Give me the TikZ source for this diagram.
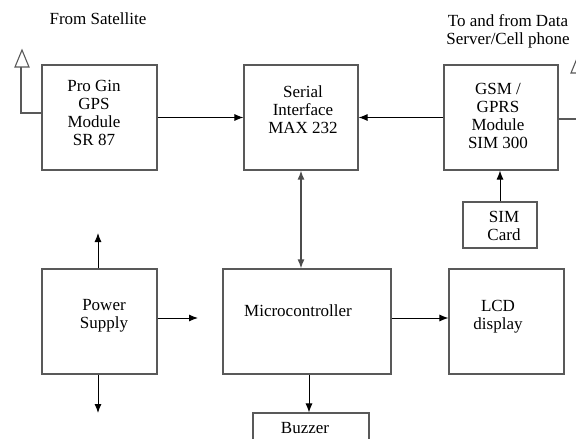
\documentclass[tikz,border=0pt]{standalone}
\usepackage{fontspec}
\setmainfont{Liberation Serif}
\usetikzlibrary{arrows.meta}
\begin{document}
\begin{tikzpicture}[x=1pt,y=-1pt,
  box/.style={draw=black!65, line width=1.1pt, inner sep=0pt},
  lbl/.style={align=center, inner sep=0pt, font=\fontsize{17}{18}\selectfont},
  arr/.style={draw=black, line width=1pt, -{Latex[length=9pt,width=7pt]}},
  darr/.style={draw=black!70, line width=1.5pt, {Latex[length=9pt,width=7pt]}-{Latex[length=9pt,width=7pt]}},
  ant/.style={draw=black!65, line width=1.1pt}]
\useasboundingbox (0,0) rectangle (576,439);
\clip (0,0) rectangle (576,439);
% boxes
\node[box, minimum width=115pt, minimum height=105pt] (gps) at (99.5,117.5) {};
\node[box, minimum width=114pt, minimum height=105pt] (serial) at (301,117.5) {};
\node[box, minimum width=114pt, minimum height=105pt] (gsm) at (501,117.5) {};
\node[box, minimum width=74pt, minimum height=46pt] (sim) at (500,225) {};
\node[box, minimum width=115pt, minimum height=105pt] (power) at (99.5,321.5) {};
\node[box, minimum width=168pt, minimum height=105pt] (micro) at (307,321.5) {};
\node[box, minimum width=115pt, minimum height=105pt] (lcd) at (506.5,321.5) {};
\node[box, minimum width=116pt, minimum height=47pt] (buzzer) at (311,436.5) {};
% texts
\node[lbl] (tsat) at (98,19) {From Satellite};
\node[lbl] (tdata) at (508,31) {To and from Data\\Server/Cell phone};
\node[lbl] (tgps) at (94,113) {Pro Gin\\GPS\\Module\\SR 87};
\node[lbl] (tserial) at (303,110) {Serial\\Interface\\MAX 232};
\node[lbl] (tgsm) at (498,115.5) {GSM /\\GPRS\\Module\\SIM 300};
\node[lbl] (tsim) at (504,226) {SIM\\Card};
\node[lbl] (tpower) at (104,316) {Power\\Supply};
\node[lbl] (tmicro) at (298,311) {Microcontroller};
\node[lbl] (tlcd) at (498,316.5) {LCD\\display};
\node[lbl] (tbuzzer) at (305,428) {Buzzer};
% connectors
\draw[arr] (gps.east) -- (serial.west);
\draw[arr] (gsm.west) -- (serial.east);
\draw[darr] (serial.south) -- (serial.south |- micro.north);
\draw[arr] (sim.north) -- (sim.north |- gsm.south);
\coordinate (pup) at (98,233);
\coordinate (pdown) at (98,413);
\coordinate (pright) at (198,318);
\draw[arr] (power.north -| pup) -- (pup);
\draw[arr] (power.south -| pdown) -- (pdown);
\draw[arr] (power.east |- pright) -- (pright);
\draw[arr] ([yshift=3.5pt]micro.east) -- ([yshift=3.5pt]lcd.west);
\draw[arr] ([xshift=2pt]micro.south) -- ([xshift=-2pt]buzzer.north);
% antennas
\coordinate (la1) at (21,113);
\coordinate (la2) at (21,67);
\draw[ant] (gps.west |- la1) -- (la1) -- (la2);
\draw[ant] (15,67) -- (22,50) -- (29,67) -- cycle;
\coordinate (ra1) at (578,119);
\coordinate (ra2) at (578,73);
\draw[ant] (gsm.east |- ra1) -- (ra1) -- (ra2);
\draw[ant] (571,73) -- (578,56) -- (585,73) -- cycle;
\end{tikzpicture}
\end{document}
